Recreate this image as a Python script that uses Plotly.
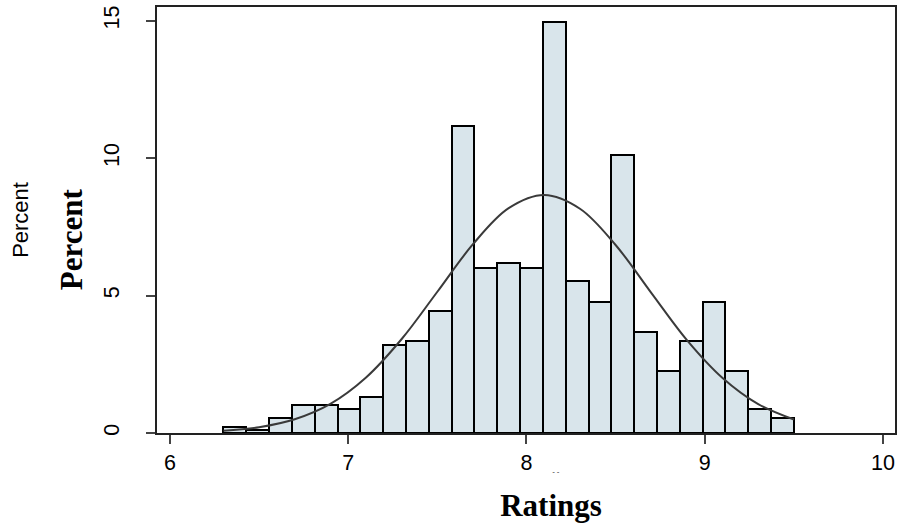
import numpy as np
import plotly.graph_objects as go

# ---- data ----
bin_start = 6.3
bin_width = 0.128
percent = [0.23, 0.11, 0.56, 1.02, 1.02, 0.86, 1.32, 3.20, 3.36, 4.45,
           11.18, 6.02, 6.20, 6.02, 14.94, 5.54, 4.78, 10.11, 3.67, 2.26,
           3.36, 4.78, 2.26, 0.86, 0.56]
curve_x = [6.3, 6.5, 6.7, 6.9, 7.1, 7.3, 7.5, 7.7, 7.9, 8.1,
           8.3, 8.5, 8.7, 8.9, 9.1, 9.3, 9.5]
curve_y = [0.08, 0.21, 0.50, 1.06, 2.02, 3.42, 5.14, 6.87, 8.18, 8.66,
           8.16, 6.84, 5.10, 3.38, 2.00, 1.05, 0.49]
x_ticks = [6, 7, 8, 9, 10]
y_ticks = [0, 5, 10, 15]

W, H = 899, 525
L, R, T, B = 157, 2, 7, 92
PW, PH = W - L - R, H - T - B

def px(xp):
    return (xp - L) / PW

def py(yp):
    return (H - B - yp) / PH

centers = [bin_start + bin_width * (i + 0.5) for i in range(len(percent))]

fig = go.Figure()
fig.add_trace(go.Bar(
    x=centers, y=percent, width=bin_width,
    marker=dict(color="#d9e5eb", line=dict(color="black", width=2)),
    showlegend=False, hoverinfo="skip"))
fig.add_trace(go.Scatter(
    x=curve_x, y=curve_y, mode="lines",
    line=dict(color="#3a3a3a", width=2, shape="spline", smoothing=1.0),
    showlegend=False, hoverinfo="skip"))

axis_font = dict(family="Liberation Sans, Arial, sans-serif", size=21.5, color="black")

fig.update_layout(
    width=W, height=H,
    margin=dict(l=L, r=R, t=T, b=B, pad=0),
    paper_bgcolor="white", plot_bgcolor="white",
    bargap=0,
    xaxis=dict(range=[5.9273, 10.0673], tickvals=x_ticks,
               ticktext=[str(v) for v in x_ticks],
               ticks="outside", ticklen=9, tickwidth=1.5, tickcolor="#444",
               showline=True, linecolor="#222", linewidth=1.5, mirror=True,
               showgrid=False, zeroline=False, tickfont=axis_font,
               ticklabelstandoff=0),
    yaxis=dict(range=[0, 15.5], tickvals=y_ticks,
               ticktext=[str(v) for v in y_ticks],
               ticks="outside", ticklen=9, tickwidth=1.5, tickcolor="#444",
               showline=True, linecolor="#222", linewidth=1.5, mirror=True,
               showgrid=False, zeroline=False, tickfont=axis_font,
               tickangle=-90, ticklabelstandoff=19),
)

annotations = [
    # small native-style y title
    dict(text="Percent", x=px(19.5), y=py(220), xref="paper", yref="paper",
         showarrow=False, textangle=-90, xanchor="center", yanchor="middle",
         font=dict(family="Liberation Sans, Arial, sans-serif", size=22, color="black")),
    # small x title, mostly hidden
    dict(text="Overall", x=px(528.5), y=py(465.5), xref="paper", yref="paper",
         showarrow=False, xanchor="center", yanchor="top",
         font=dict(family="Liberation Sans, Arial, sans-serif", size=21, color="black")),
    # bold y title
    dict(text="<b>Percent</b>", x=px(71), y=py(239), xref="paper", yref="paper",
         showarrow=False, textangle=-90, xanchor="center", yanchor="middle",
         font=dict(family="Liberation Serif, Times New Roman, serif", size=31, color="black")),
    # bold x title with white box covering the small one
    dict(text="<b>Ratings</b>", x=px(552), y=py(498), xref="paper", yref="paper",
         showarrow=False, xanchor="center", yanchor="middle",
         width=124, height=50, valign="bottom", bgcolor="white", borderpad=0,
         font=dict(family="Liberation Serif, Times New Roman, serif", size=31, color="black")),
]
fig.update_layout(annotations=annotations)

fig.write_html("out.html", config={"displayModeBar": False},
               post_script="document.body.style.margin='0px';document.body.style.overflow='hidden';")
